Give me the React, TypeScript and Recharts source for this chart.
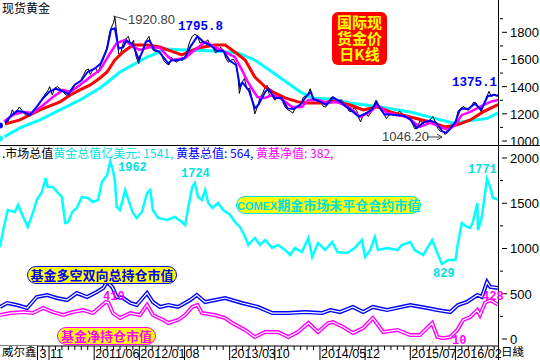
import React from "react";
import { ComposedChart, Line, XAxis, YAxis } from "recharts";

// x = months since 2010/03 (0 = 2010/03), y = value
type Pt = [number, number];

// 现货黄金 daily closes (sampled)
const goldPrice: Pt[] = [
  [0.4, 1110], [0.8, 1125], [1.2, 1150], [1.6, 1140], [2.0, 1180], [2.3, 1230], [2.7, 1195], [3.0, 1220],
  [3.4, 1250], [3.8, 1225], [4.2, 1200], [4.6, 1180], [5.0, 1190], [5.4, 1215], [5.8, 1235], [6.2, 1255],
  [6.6, 1280], [7.0, 1315], [7.4, 1345], [7.8, 1370], [8.1, 1400], [8.5, 1340], [8.9, 1390], [9.3, 1400],
  [9.7, 1385], [10.1, 1370], [10.5, 1345], [10.9, 1330], [11.3, 1370], [11.7, 1400], [12.1, 1420], [12.5, 1430],
  [12.9, 1445], [13.3, 1480], [13.7, 1520], [14.1, 1530], [14.4, 1490], [14.8, 1525], [15.2, 1540], [15.6, 1500],
  [16.0, 1560], [16.4, 1600], [16.8, 1650], [17.1, 1720], [17.4, 1800], [17.7, 1840], [18.0, 1870], [18.2, 1915],
  [18.5, 1790], [18.8, 1640], [19.1, 1640], [19.5, 1720], [19.9, 1750], [20.3, 1770], [20.7, 1700], [21.1, 1740],
  [21.5, 1620], [21.9, 1570], [22.3, 1640], [22.7, 1680], [23.1, 1740], [23.5, 1770], [23.8, 1700], [24.2, 1665],
  [24.6, 1660], [25.0, 1660], [25.4, 1640], [25.8, 1590], [26.2, 1570], [26.6, 1560], [27.0, 1615], [27.4, 1590],
  [27.8, 1580], [28.2, 1610], [28.6, 1590], [29.0, 1610], [29.4, 1660], [29.8, 1730], [30.2, 1770], [30.6, 1785],
  [31.0, 1775], [31.4, 1720], [31.8, 1730], [32.2, 1720], [32.6, 1745], [33.0, 1700], [33.4, 1690], [33.8, 1650],
  [34.2, 1660], [34.6, 1690], [35.0, 1670], [35.4, 1610], [35.8, 1580], [36.2, 1595], [36.6, 1600], [37.0, 1570],
  [37.3, 1480], [37.5, 1350], [37.9, 1430], [38.3, 1460], [38.7, 1380], [39.1, 1390], [39.5, 1300], [39.9, 1200],
  [40.3, 1250], [40.7, 1320], [41.1, 1350], [41.5, 1395], [41.8, 1410], [42.2, 1330], [42.6, 1330], [43.0, 1300],
  [43.4, 1320], [43.8, 1310], [44.2, 1290], [44.6, 1250], [45.0, 1230], [45.4, 1220], [45.8, 1205], [46.2, 1245],
  [46.6, 1260], [47.0, 1265], [47.4, 1320], [47.8, 1330], [48.2, 1350], [48.5, 1385], [48.9, 1300], [49.3, 1305],
  [49.7, 1290], [50.1, 1295], [50.5, 1255], [50.9, 1250], [51.3, 1285], [51.7, 1320], [52.1, 1325], [52.5, 1310],
  [52.9, 1290], [53.3, 1305], [53.7, 1280], [54.1, 1260], [54.5, 1220], [54.9, 1215], [55.3, 1245], [55.7, 1225],
  [56.0, 1170], [56.3, 1140], [56.7, 1195], [57.1, 1210], [57.5, 1180], [57.9, 1210], [58.3, 1260], [58.7, 1300],
  [59.1, 1260], [59.5, 1220], [59.9, 1200], [60.3, 1165], [60.7, 1190], [61.1, 1205], [61.5, 1195], [61.9, 1185],
  [62.3, 1220], [62.7, 1205], [63.1, 1180], [63.5, 1185], [63.9, 1165], [64.3, 1130], [64.7, 1090], [65.1, 1095],
  [65.5, 1150], [65.9, 1135], [66.3, 1110], [66.7, 1135], [67.1, 1155], [67.5, 1180], [67.9, 1140], [68.3, 1090],
  [68.7, 1070], [69.1, 1070], [69.4, 1048], [69.8, 1075], [70.2, 1090], [70.6, 1110], [71.0, 1130], [71.4, 1220],
  [71.8, 1235], [72.2, 1255], [72.6, 1240], [73.0, 1225], [73.4, 1250], [73.8, 1285], [74.2, 1280], [74.6, 1245],
  [75.0, 1215], [75.4, 1270], [75.8, 1320], [76.2, 1365], [76.6, 1325], [77.0, 1345], [77.4, 1335], [77.6, 1340],
];

// short moving average (blue)
const maBlue: Pt[] = [
  [0.4, 1115], [1, 1125], [2, 1180], [3, 1220], [4, 1215], [5, 1190], [6, 1245], [7, 1310], [8, 1360],
  [9, 1385], [10, 1370], [11, 1345], [12, 1415], [13, 1445], [14, 1510], [15, 1530], [16, 1570], [17, 1680],
  [17.6, 1820], [18.2, 1830], [18.8, 1680], [19.5, 1690], [20, 1740], [21, 1710], [21.9, 1600], [22.5, 1660],
  [23, 1730], [23.6, 1740], [24.3, 1670], [25, 1660], [26, 1600], [26.5, 1570], [27, 1595], [28, 1595],
  [29, 1610], [30, 1700], [31, 1770], [31.6, 1745], [32, 1725], [33, 1705], [34, 1665], [35, 1665], [36, 1590],
  [37, 1560], [37.6, 1400], [38, 1430], [39, 1370], [39.9, 1240], [40.5, 1270], [41.5, 1360], [42, 1385],
  [43, 1315], [44, 1320], [45, 1240], [46, 1235], [47, 1270], [48, 1335], [48.6, 1360], [49, 1310], [50, 1290],
  [51, 1265], [52, 1320], [53, 1295], [54, 1255], [55, 1220], [56, 1180], [57, 1200], [58, 1230], [58.8, 1285],
  [59, 1265], [60, 1195], [61, 1195], [62, 1190], [63, 1185], [64, 1160], [65, 1095], [66, 1135], [67, 1150],
  [68, 1135], [69, 1070], [69.6, 1060], [70, 1080], [71, 1140], [71.6, 1220], [72, 1240], [73, 1235], [74, 1275],
  [75, 1230], [76, 1330], [77, 1340], [77.6, 1330],
];

// medium moving average (magenta)
const maMagenta: Pt[] = [
  [0.4, 1125], [0.9, 1140], [2.4, 1192], [4.0, 1214], [5.5, 1207], [7.1, 1265], [8.6, 1324], [10.2, 1376],
  [11.3, 1361], [12.8, 1413], [14.4, 1471], [15.9, 1523], [17.5, 1648], [18.5, 1721], [19.8, 1743], [21.0, 1692],
  [22.1, 1670], [23.7, 1692], [25.2, 1685], [26.5, 1618], [27.1, 1596], [29.1, 1611], [30.6, 1670], [32.2, 1729],
  [33.7, 1692], [35.3, 1655], [36.8, 1618], [37.9, 1523], [38.9, 1427], [40.3, 1324], [41.5, 1317], [42.6, 1339],
  [43.8, 1317], [45.7, 1251], [47.2, 1251], [48.2, 1302], [49.7, 1302], [51.3, 1280], [52.7, 1288], [54.7, 1243],
  [56.2, 1177], [57.8, 1214], [58.9, 1265], [60.4, 1207], [62.0, 1192], [63.5, 1177], [65.5, 1104], [67.1, 1133],
  [68.6, 1104], [69.9, 1082], [71.0, 1119], [72.0, 1192], [73.3, 1214], [74.8, 1251], [76.4, 1288], [77.6, 1302],
];

// slower moving average (red)
const maRed: Pt[] = [
  [0.4, 1115], [0.7, 1119], [3.5, 1155], [6.6, 1229], [9.7, 1288], [11.3, 1339], [12.8, 1376], [14.4, 1413],
  [15.9, 1464], [17.0, 1508], [18.2, 1596], [19.5, 1655], [21.0, 1707], [23.2, 1707], [25.2, 1692], [26.4, 1670],
  [28.6, 1633], [31.1, 1685], [33.7, 1707], [35.3, 1707], [36.8, 1655], [38.4, 1596], [39.9, 1471], [41.5, 1398],
  [43.0, 1354], [44.6, 1317], [46.6, 1288], [48.2, 1280], [50.3, 1280], [52.0, 1295], [54.7, 1265], [56.7, 1229],
  [58.9, 1251], [60.9, 1214], [64.0, 1177], [67.1, 1140], [69.4, 1104], [71.3, 1119], [73.3, 1155], [75.3, 1214],
  [77.6, 1268],
];

// long moving average (cyan)
const maCyan: Pt[] = [
  [0.4, 1018], [0.7, 1022], [3.5, 1096], [6.6, 1155], [9.7, 1229], [12.8, 1302], [15.9, 1390], [17.5, 1449],
  [19.0, 1508], [21.0, 1560], [23.2, 1618], [25.2, 1655], [26.0, 1677], [29.1, 1670], [33.7, 1663], [37.3, 1648],
  [39.9, 1596], [42.6, 1508], [45.0, 1427], [47.2, 1354], [48.8, 1317], [51.6, 1310], [54.7, 1280], [59.3, 1251],
  [64.0, 1214], [67.5, 1170], [70.6, 1133], [73.3, 1150], [75.9, 1165], [77.6, 1207],
];

// COMEX期金市场未平仓合约市值 (亿美元)
const comexOI: Pt[] = [
  [0.4, 1017], [0.9, 1204], [1.6, 1425], [2.7, 1403], [3.2, 1481], [4.0, 1348], [4.7, 1238], [5.5, 1392],
  [6.1, 1536], [6.9, 1624], [7.5, 1779], [7.8, 1680], [8.6, 1680], [9.4, 1613], [10.0, 1569], [10.5, 1282],
  [11.0, 1293], [11.6, 1403], [12.3, 1447], [13.1, 1569], [14.0, 1558], [14.8, 1514], [15.6, 1536], [16.2, 1735],
  [17.0, 1812], [17.5, 1962], [17.9, 1867], [18.2, 1757], [18.5, 1459], [19.0, 1425], [19.8, 1646], [20.3, 1536],
  [21.0, 1392], [21.6, 1337], [22.4, 1403], [23.2, 1613], [23.7, 1646], [24.1, 1425], [24.9, 1337], [26.3, 1315],
  [27.5, 1348], [28.6, 1293], [29.1, 1260], [29.6, 1459], [30.2, 1680], [30.6, 1724], [31.1, 1569], [31.7, 1536],
  [32.2, 1646], [32.7, 1503], [33.3, 1447], [34.2, 1503], [35.0, 1425], [36.1, 1370], [36.8, 1293], [37.6, 1238],
  [38.4, 1127], [38.9, 1039], [39.9, 1116], [40.7, 1039], [41.5, 1094], [42.6, 1006], [43.5, 1039], [44.6, 983],
  [45.4, 928], [46.1, 1006], [47.2, 961], [48.2, 1116], [48.8, 906], [49.7, 1061], [50.8, 983], [51.9, 1072],
  [52.7, 961], [54.2, 950], [55.4, 1006], [56.5, 1094], [57.0, 906], [57.8, 983], [58.5, 1127], [59.0, 983],
  [60.4, 1006], [62.0, 983], [62.7, 1039], [64.0, 1072], [64.7, 983], [66.0, 928], [67.4, 1094], [68.2, 950],
  [68.9, 829], [69.9, 873], [71.0, 873], [71.4, 1061], [72.0, 1282], [72.8, 1238], [73.3, 1227], [73.7, 1293],
  [74.4, 1503], [74.5, 1204], [75.1, 1348], [75.6, 1613], [75.9, 1771], [76.4, 1680], [76.8, 1558], [77.6, 1541],
];

// 基金多空双向总持仓市值
const fundGross: Pt[] = [
  [0.4, 354], [1.5, 398], [3.0, 376], [4.6, 343], [6.1, 464], [7.7, 486], [9.2, 453], [10.8, 431], [12.3, 508],
  [13.9, 464], [15.4, 519], [16.4, 564], [17.0, 630], [17.8, 575], [18.5, 464], [19.5, 453], [20.6, 398],
  [21.6, 376], [23.2, 508], [24.1, 409], [25.2, 354], [26.5, 376], [28.0, 354], [29.9, 431], [30.9, 486],
  [32.2, 409], [35.3, 453], [37.9, 398], [40.4, 354], [42.6, 287], [45.0, 287], [47.7, 298], [50.3, 287],
  [51.6, 320], [53.1, 298], [55.1, 354], [56.7, 298], [58.2, 354], [60.4, 320], [64.0, 376], [66.6, 343],
  [68.2, 320], [70.2, 298], [71.4, 376], [72.8, 409], [74.4, 486], [75.1, 464], [75.9, 630], [76.4, 575],
  [77.6, 564],
];

// 基金净持仓市值
const fundNet: Pt[] = [
  [0.4, 265], [2.0, 287], [4.0, 298], [5.5, 287], [7.1, 343], [8.6, 298], [10.2, 265], [11.7, 298], [13.3, 320],
  [14.8, 287], [15.9, 354], [16.8, 410], [17.2, 400], [17.9, 287], [19.0, 232], [20.6, 287], [22.1, 265],
  [23.2, 376], [24.1, 265], [25.7, 210], [26.5, 177], [28.0, 210], [29.1, 265], [30.2, 354], [31.0, 376],
  [31.7, 287], [33.7, 265], [35.3, 232], [36.4, 177], [38.4, 100], [39.9, 22], [41.5, 77], [43.5, 77],
  [45.1, 22], [46.6, 77], [48.2, 177], [49.7, 77], [51.3, 177], [52.0, 188], [53.6, 133], [55.1, 66],
  [56.7, 122], [58.2, 232], [59.8, 77], [62.0, 100], [64.0, 44], [65.5, 44], [67.4, 177], [68.2, 22],
  [69.1, 10], [70.2, 22], [71.3, 100], [72.2, 210], [73.3, 243], [74.4, 320], [74.8, 265], [75.6, 400],
  [76.4, 428], [77.6, 382],
];

const monthTicks = Array.from({ length: 78 }, (_, i) => i);
// 2010/03 label is mostly hidden behind the 威尔鑫 box; only its last "3" shows
const monthLabels: Record<number, string> = {
  0: "3", 8: "11", 15: "2011/06", 22: "2012/01", 29: "08", 36: "2013/03",
  43: "10", 50: "2014/05", 57: "12", 64: "2015/07", 71: "2016/02",
};
const priceTicks = [1000, 1100, 1200, 1300, 1400, 1500, 1600, 1700, 1800, 1900];
const priceLabels = [1000, 1200, 1400, 1600, 1800];
const valueTicks = [0, 250, 500, 750, 1000, 1250, 1500, 1750, 2000];
const valueLabels = [0, 500, 1000, 1500, 2000];

const X_DOMAIN: [number, number] = [0.4, 77.6];
const SANS = "'Liberation Sans', Arial, sans-serif";
const MONO = "'Liberation Mono', monospace";
const CJK = "'Noto Sans CJK SC', 'Noto Sans', sans-serif";

const rows = (pts: Pt[]) => pts.map(([m, v]) => ({ m, v }));

const rightTick = (labels: number[]) => (props: any) => {
  const { x, y, payload } = props;
  const major = labels.includes(payload.value);
  return (
    <g>
      <line x1={x + (major ? 4 : 2)} x2={x + (major ? 9 : 5)} y1={y} y2={y} stroke="#000" />
      {major && (
        <text x={x + 12} y={y + 5} fontSize={13} fontFamily={SANS} fill="#000">
          {payload.value}
        </text>
      )}
    </g>
  );
};

const MonthTick = (props: any) => {
  const { x, y, payload } = props;
  const label = monthLabels[payload.value];
  if (label === undefined) {
    return <line x1={x} x2={x} y1={y} y2={y + 4} stroke="#000" />;
  }
  const tx = payload.value === 0 ? x + 42 : x + 1;
  return (
    <g>
      {payload.value !== 0 && <line x1={x} x2={x} y1={y} y2={y + 14} stroke="#000" />}
      <text x={tx} y={y + 12} fontSize={12.5} fontFamily={SANS} fill="#000">
        {label}
      </text>
    </g>
  );
};

const abs = (left: number, top: number, extra: React.CSSProperties = {}): React.CSSProperties => ({
  position: "absolute",
  left,
  top,
  whiteSpace: "nowrap",
  ...extra,
});

const tag = (color: string): React.CSSProperties => ({
  background: "#FFFF00",
  border: `1.5px solid ${color}`,
  borderRadius: 9,
  color,
  fontFamily: CJK,
  fontWeight: 700,
  fontSize: 13,
  lineHeight: "15px",
  textAlign: "center",
  boxSizing: "border-box",
});

const peak = (color: string): React.CSSProperties => ({
  fontFamily: MONO,
  fontWeight: 700,
  fontSize: 12,
  lineHeight: "14px",
  color,
});

export default function App() {
  return (
    <div style={{ position: "absolute", left: 0, top: 0, width: 540, height: 360, background: "#fff", overflow: "hidden" }}>
      {/* top: gold price with moving averages */}
      <div style={abs(0, 0)}>
        <ComposedChart width={540} height={152} margin={{ top: 0, right: 0, bottom: 7, left: 0 }}>
          <XAxis type="number" dataKey="m" domain={X_DOMAIN} allowDataOverflow hide />
          <YAxis
            orientation="right"
            width={42}
            type="number"
            domain={[970.6, 2037.7]}
            allowDataOverflow
            ticks={priceTicks}
            interval={0}
            tickSize={0}
            tickMargin={0}
            tickLine={false}
            axisLine={false}
            tick={rightTick(priceLabels)}
          />
          <Line data={rows(maCyan)} dataKey="v" stroke="#00FFFF" strokeWidth={3} dot={false} isAnimationActive={false} />
          <Line data={rows(goldPrice)} dataKey="v" stroke="#000" strokeWidth={1} dot={false} isAnimationActive={false} />
          <Line data={rows(maRed)} dataKey="v" stroke="#FF0000" strokeWidth={3} dot={false} isAnimationActive={false} />
          <Line data={rows(maMagenta)} dataKey="v" stroke="#FF00FF" strokeWidth={2.5} dot={false} isAnimationActive={false} />
          <Line data={rows(maBlue)} dataKey="v" stroke="#0000FF" strokeWidth={2} dot={false} isAnimationActive={false} />
        </ComposedChart>
      </div>

      {/* bottom: market values */}
      <div style={abs(0, 146)}>
        <ComposedChart width={540} height={214} margin={{ top: 1, right: 0, bottom: 0, left: 0 }}>
          <XAxis
            type="number"
            dataKey="m"
            domain={X_DOMAIN}
            allowDataOverflow
            ticks={monthTicks}
            interval={0}
            height={14}
            tickSize={0}
            tickMargin={0}
            tickLine={false}
            axisLine={{ stroke: "#000" }}
            tick={MonthTick}
          />
          <YAxis
            orientation="right"
            width={42}
            type="number"
            domain={[-77, 2121]}
            allowDataOverflow
            ticks={valueTicks}
            interval={0}
            tickSize={0}
            tickMargin={0}
            tickLine={false}
            axisLine={false}
            tick={rightTick(valueLabels)}
          />
          <Line data={rows(fundNet)} dataKey="v" stroke="#FF00FF" strokeWidth={4} dot={false} isAnimationActive={false} />
          <Line data={rows(fundNet)} dataKey="v" stroke="#fff" strokeWidth={1.2} dot={false} isAnimationActive={false} />
          <Line data={rows(fundGross)} dataKey="v" stroke="#0000FF" strokeWidth={4} dot={false} isAnimationActive={false} />
          <Line data={rows(fundGross)} dataKey="v" stroke="#fff" strokeWidth={1.2} dot={false} isAnimationActive={false} />
          <Line data={rows(comexOI)} dataKey="v" stroke="#00FFFF" strokeWidth={2.5} dot={false} isAnimationActive={false} />
        </ComposedChart>
      </div>

      {/* frame lines */}
      <div style={abs(0, 145, { width: 540, height: 1, background: "#000" })} />
      <div style={abs(498, 0, { width: 1, height: 360, background: "#000" })} />

      {/* top panel texts */}
      <div style={abs(2, 0, { fontFamily: CJK, fontSize: 12, lineHeight: "16px", color: "#000" })}>现货黄金</div>
      <div style={abs(128, 12, { fontFamily: SANS, fontSize: 13, lineHeight: "15px", color: "#404040" })}>1920.80</div>
      <div style={abs(178, 20, { ...peak("#0000FF"), fontSize: 12.5 })}>1795.8</div>
      <div style={abs(452, 76, { ...peak("#0000FF"), fontSize: 12.5 })}>1375.1</div>
      <div style={abs(382, 129, { fontFamily: SANS, fontSize: 13, lineHeight: "15px", color: "#404040" })}>1046.20</div>
      <div
        style={abs(332, 12, {
          width: 55,
          height: 53,
          background: "#FF0000",
          borderRadius: 6,
          color: "#FFFF00",
          fontFamily: CJK,
          fontWeight: 700,
          fontSize: 15,
          textAlign: "center",
          paddingTop: 2,
          boxSizing: "border-box",
        })}
      >
        <div style={{ height: 16, lineHeight: "16px" }}>国际现</div>
        <div style={{ height: 16, lineHeight: "16px" }}>货金价</div>
        <div style={{ height: 16, lineHeight: "16px" }}>日K线</div>
      </div>

      {/* bottom panel texts */}
      <div style={abs(2, 146, { fontFamily: CJK, fontSize: 12, lineHeight: "14px" })}>
        <span style={{ color: "#000" }}>.市场总值</span>
        <span style={{ color: "#00E0E0" }}>黄金总值亿美元: 1541, </span>
        <span style={{ color: "#0000FF" }}>黄基总值: 564, </span>
        <span style={{ color: "#FF00FF" }}>黄基净值: 382,</span>
      </div>
      <div style={abs(236, 196, { ...tag("#00E0E0"), width: 185, height: 18 })}>
        <span style={{ fontFamily: SANS, fontSize: 11 }}>COMEX</span>期金市场未平仓合约市值
      </div>
      <div style={abs(27, 266, { ...tag("#0000FF"), width: 150, height: 18 })}>基金多空双向总持仓市值</div>
      <div style={abs(57, 327, { ...tag("#FF00FF"), width: 99, height: 18 })}>基金净持仓市值</div>

      <div style={abs(118, 161, peak("#00E0E0"))}>1962</div>
      <div style={abs(181, 167, peak("#00E0E0"))}>1724</div>
      <div style={abs(433, 267, peak("#00E0E0"))}>829</div>
      <div style={abs(468, 163, peak("#00E0E0"))}>1771</div>
      <div style={abs(103, 290, peak("#FF00FF"))}>410</div>
      <div style={abs(482, 290, peak("#FF00FF"))}>428</div>
      <div style={abs(452, 334, peak("#FF00FF"))}>10</div>

      {/* x axis strip */}
      <div style={abs(0, 345.5, { width: 37, height: 14.5, background: "#fff", borderRight: "1px solid #000" })} />
      <div style={abs(2, 343.3, { fontFamily: CJK, fontSize: 11.5, lineHeight: "normal", color: "#000" })}>威尔鑫</div>
      <div style={abs(501, 343.3, { fontFamily: CJK, fontSize: 11.5, lineHeight: "normal", color: "#000" })}>日綫</div>

      {/* annotation arrows */}
      <svg width={540} height={360} style={{ position: "absolute", left: 0, top: 0, pointerEvents: "none" }}>
        <line x1={113} y1={16} x2={127} y2={20} stroke="#404040" strokeWidth={1} />
        <line x1={427} y1={137} x2={442} y2={137} stroke="#404040" strokeWidth={1} />
        <path d="M437,134 L442,137 L437,140" fill="none" stroke="#404040" strokeWidth={1} />
      </svg>
    </div>
  );
}
